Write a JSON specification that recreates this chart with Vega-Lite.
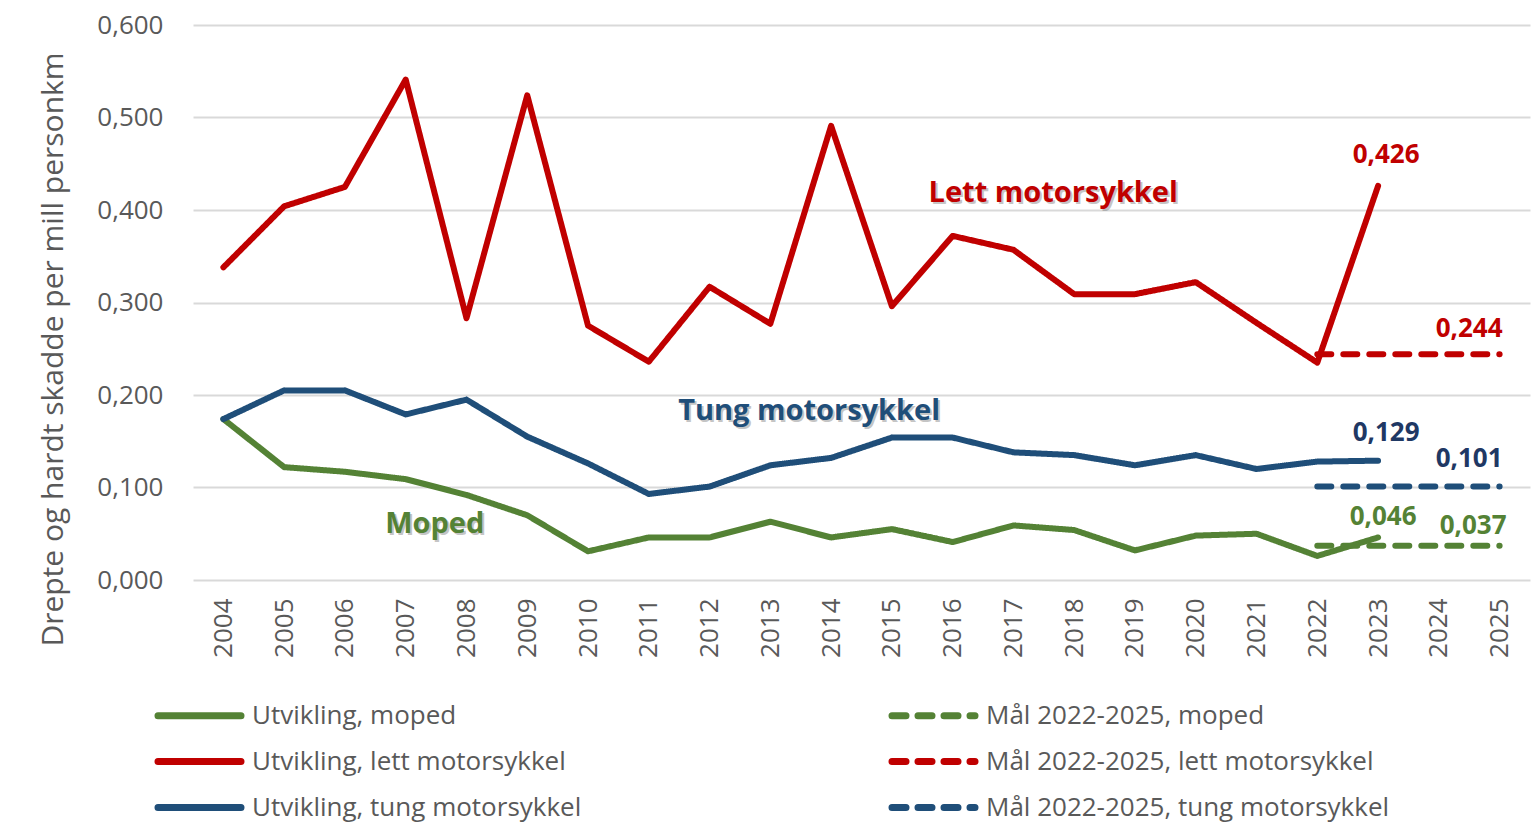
{
  "$schema": "https://vega.github.io/schema/vega-lite/v6.json",
  "width": 1337,
  "height": 555,
  "autosize": {"type": "none"},
  "padding": {"left": 193, "top": 25, "right": 4, "bottom": 254},
  "background": "white",
  "config": {
    "locale": {"number": {"decimal": ",", "thousands": " ", "grouping": [3], "currency": ["", " kr"]}},
    "view": {"stroke": null},
    "font": "Open Sans",
    "axis": {"labelColor": "#595959", "titleColor": "#595959", "labelFont": "Open Sans", "titleFont": "Open Sans", "titleFontWeight": "normal"},
    "legend": {"labelFont": "Open Sans", "labelColor": "#595959"}
  },
  "data": {
    "values": [
      {"year": 2004, "series": "Utvikling, moped", "value": 0.174},
      {"year": 2005, "series": "Utvikling, moped", "value": 0.122},
      {"year": 2006, "series": "Utvikling, moped", "value": 0.117},
      {"year": 2007, "series": "Utvikling, moped", "value": 0.109},
      {"year": 2008, "series": "Utvikling, moped", "value": 0.092},
      {"year": 2009, "series": "Utvikling, moped", "value": 0.070},
      {"year": 2010, "series": "Utvikling, moped", "value": 0.031},
      {"year": 2011, "series": "Utvikling, moped", "value": 0.046},
      {"year": 2012, "series": "Utvikling, moped", "value": 0.046},
      {"year": 2013, "series": "Utvikling, moped", "value": 0.063},
      {"year": 2014, "series": "Utvikling, moped", "value": 0.046},
      {"year": 2015, "series": "Utvikling, moped", "value": 0.055},
      {"year": 2016, "series": "Utvikling, moped", "value": 0.041},
      {"year": 2017, "series": "Utvikling, moped", "value": 0.059},
      {"year": 2018, "series": "Utvikling, moped", "value": 0.054},
      {"year": 2019, "series": "Utvikling, moped", "value": 0.032},
      {"year": 2020, "series": "Utvikling, moped", "value": 0.048},
      {"year": 2021, "series": "Utvikling, moped", "value": 0.050},
      {"year": 2022, "series": "Utvikling, moped", "value": 0.026},
      {"year": 2023, "series": "Utvikling, moped", "value": 0.046},
      {"year": 2004, "series": "Utvikling, lett motorsykkel", "value": 0.338},
      {"year": 2005, "series": "Utvikling, lett motorsykkel", "value": 0.404},
      {"year": 2006, "series": "Utvikling, lett motorsykkel", "value": 0.425},
      {"year": 2007, "series": "Utvikling, lett motorsykkel", "value": 0.541},
      {"year": 2008, "series": "Utvikling, lett motorsykkel", "value": 0.283},
      {"year": 2009, "series": "Utvikling, lett motorsykkel", "value": 0.524},
      {"year": 2010, "series": "Utvikling, lett motorsykkel", "value": 0.275},
      {"year": 2011, "series": "Utvikling, lett motorsykkel", "value": 0.236},
      {"year": 2012, "series": "Utvikling, lett motorsykkel", "value": 0.317},
      {"year": 2013, "series": "Utvikling, lett motorsykkel", "value": 0.277},
      {"year": 2014, "series": "Utvikling, lett motorsykkel", "value": 0.491},
      {"year": 2015, "series": "Utvikling, lett motorsykkel", "value": 0.296},
      {"year": 2016, "series": "Utvikling, lett motorsykkel", "value": 0.372},
      {"year": 2017, "series": "Utvikling, lett motorsykkel", "value": 0.357},
      {"year": 2018, "series": "Utvikling, lett motorsykkel", "value": 0.309},
      {"year": 2019, "series": "Utvikling, lett motorsykkel", "value": 0.309},
      {"year": 2020, "series": "Utvikling, lett motorsykkel", "value": 0.322},
      {"year": 2021, "series": "Utvikling, lett motorsykkel", "value": 0.278},
      {"year": 2022, "series": "Utvikling, lett motorsykkel", "value": 0.235},
      {"year": 2023, "series": "Utvikling, lett motorsykkel", "value": 0.426},
      {"year": 2004, "series": "Utvikling, tung motorsykkel", "value": 0.174},
      {"year": 2005, "series": "Utvikling, tung motorsykkel", "value": 0.205},
      {"year": 2006, "series": "Utvikling, tung motorsykkel", "value": 0.205},
      {"year": 2007, "series": "Utvikling, tung motorsykkel", "value": 0.179},
      {"year": 2008, "series": "Utvikling, tung motorsykkel", "value": 0.195},
      {"year": 2009, "series": "Utvikling, tung motorsykkel", "value": 0.155},
      {"year": 2010, "series": "Utvikling, tung motorsykkel", "value": 0.126},
      {"year": 2011, "series": "Utvikling, tung motorsykkel", "value": 0.093},
      {"year": 2012, "series": "Utvikling, tung motorsykkel", "value": 0.101},
      {"year": 2013, "series": "Utvikling, tung motorsykkel", "value": 0.124},
      {"year": 2014, "series": "Utvikling, tung motorsykkel", "value": 0.132},
      {"year": 2015, "series": "Utvikling, tung motorsykkel", "value": 0.154},
      {"year": 2016, "series": "Utvikling, tung motorsykkel", "value": 0.154},
      {"year": 2017, "series": "Utvikling, tung motorsykkel", "value": 0.138},
      {"year": 2018, "series": "Utvikling, tung motorsykkel", "value": 0.135},
      {"year": 2019, "series": "Utvikling, tung motorsykkel", "value": 0.124},
      {"year": 2020, "series": "Utvikling, tung motorsykkel", "value": 0.135},
      {"year": 2021, "series": "Utvikling, tung motorsykkel", "value": 0.120},
      {"year": 2022, "series": "Utvikling, tung motorsykkel", "value": 0.128},
      {"year": 2023, "series": "Utvikling, tung motorsykkel", "value": 0.129},
      {"year": 2022, "series": "Mål 2022-2025, moped", "value": 0.037},
      {"year": 2023, "series": "Mål 2022-2025, moped", "value": 0.037},
      {"year": 2024, "series": "Mål 2022-2025, moped", "value": 0.037},
      {"year": 2025, "series": "Mål 2022-2025, moped", "value": 0.037},
      {"year": 2022, "series": "Mål 2022-2025, lett motorsykkel", "value": 0.244},
      {"year": 2023, "series": "Mål 2022-2025, lett motorsykkel", "value": 0.244},
      {"year": 2024, "series": "Mål 2022-2025, lett motorsykkel", "value": 0.244},
      {"year": 2025, "series": "Mål 2022-2025, lett motorsykkel", "value": 0.244},
      {"year": 2022, "series": "Mål 2022-2025, tung motorsykkel", "value": 0.101},
      {"year": 2023, "series": "Mål 2022-2025, tung motorsykkel", "value": 0.101},
      {"year": 2024, "series": "Mål 2022-2025, tung motorsykkel", "value": 0.101},
      {"year": 2025, "series": "Mål 2022-2025, tung motorsykkel", "value": 0.101}
    ]
  },
  "encoding": {
    "x": {
      "field": "year", "type": "ordinal",
      "scale": {"type": "point", "padding": 0.5, "domain": [2004,2005,2006,2007,2008,2009,2010,2011,2012,2013,2014,2015,2016,2017,2018,2019,2020,2021,2022,2023,2024,2025]},
      "axis": {"title": null, "labelAngle": -90, "labelFontSize": 26, "ticks": false, "domain": false, "grid": false, "labelPadding": 18}
    },
    "y": {
      "field": "value", "type": "quantitative",
      "scale": {"domain": [0, 0.6], "nice": false},
      "axis": {"title": "Drepte og hardt skadde per mill personkm", "titleFontSize": 30, "titlePadding": 28, "titleY": 324, "format": ".3f", "values": [0, 0.1, 0.2, 0.3, 0.4, 0.5, 0.6], "labelFontSize": 26, "ticks": false, "domain": false, "gridColor": "#d9d9d9", "gridWidth": 2, "labelPadding": 30}
    }
  },
  "layer": [
    {
      "mark": {"type": "line", "strokeWidth": 6, "strokeCap": "round", "strokeJoin": "round"},
      "encoding": {
        "color": {
          "field": "series", "type": "nominal",
          "scale": {
            "domain": ["Utvikling, moped", "Utvikling, lett motorsykkel", "Utvikling, tung motorsykkel", "Mål 2022-2025, moped", "Mål 2022-2025, lett motorsykkel", "Mål 2022-2025, tung motorsykkel"],
            "range": ["#548235", "#C00000", "#1F4E79", "#548235", "#C00000", "#1F4E79"]
          },
          "legend": {
            "title": null, "orient": "none", "legendX": -42, "legendY": 677, "columns": 2,
            "symbolType": "M-0.65,0H7.65", "symbolSize": 400, "symbolStrokeWidth": 7,
            "labelFontSize": 26, "labelOffset": 74, "columnPadding": 296, "rowPadding": 17,
            "labelLimit": 700,
            "encode": {"symbols": {"update": {"strokeCap": {"value": "round"}, "fill": {"value": "transparent"}}}}
          }
        },
        "strokeDash": {
          "field": "series", "type": "nominal",
          "scale": {
            "domain": ["Utvikling, moped", "Utvikling, lett motorsykkel", "Utvikling, tung motorsykkel", "Mål 2022-2025, moped", "Mål 2022-2025, lett motorsykkel", "Mål 2022-2025, tung motorsykkel"],
            "range": [[1, 0], [1, 0], [1, 0], [14, 12], [14, 12], [14, 12]]
          },
          "legend": null
        }
      }
    },
    {
      "transform": [{"filter": "datum.series == 'Utvikling, lett motorsykkel' && datum.year == 2018"}],
      "mark": {"type": "text", "text": "Lett motorsykkel", "fontSize": 29, "fontWeight": "bold", "color": "#808080", "opacity": 0.45, "dx": -19, "dy": -99}
    },
    {
      "transform": [{"filter": "datum.series == 'Utvikling, lett motorsykkel' && datum.year == 2018"}],
      "mark": {"type": "text", "text": "Lett motorsykkel", "fontSize": 29, "fontWeight": "bold", "color": "#C00000", "dx": -21, "dy": -101}
    },
    {
      "transform": [{"filter": "datum.series == 'Utvikling, tung motorsykkel' && datum.year == 2014"}],
      "mark": {"type": "text", "text": "Tung motorsykkel", "fontSize": 29, "fontWeight": "bold", "color": "#808080", "opacity": 0.45, "dx": -20, "dy": -45}
    },
    {
      "transform": [{"filter": "datum.series == 'Utvikling, tung motorsykkel' && datum.year == 2014"}],
      "mark": {"type": "text", "text": "Tung motorsykkel", "fontSize": 29, "fontWeight": "bold", "color": "#1F4E79", "dx": -22, "dy": -47}
    },
    {
      "transform": [{"filter": "datum.series == 'Utvikling, moped' && datum.year == 2007"}],
      "mark": {"type": "text", "text": "Moped", "fontSize": 29, "fontWeight": "bold", "color": "#808080", "opacity": 0.45, "dx": 31, "dy": 47}
    },
    {
      "transform": [{"filter": "datum.series == 'Utvikling, moped' && datum.year == 2007"}],
      "mark": {"type": "text", "text": "Moped", "fontSize": 29, "fontWeight": "bold", "color": "#548235", "dx": 29, "dy": 45}
    },
    {
      "transform": [{"filter": "datum.series == 'Utvikling, lett motorsykkel' && datum.year == 2023"}],
      "mark": {"type": "text", "fontSize": 26, "fontWeight": "bold", "color": "#C00000", "dx": 8, "dy": -31},
      "encoding": {"text": {"field": "value", "type": "quantitative", "format": ".3f"}}
    },
    {
      "transform": [{"filter": "datum.series == 'Utvikling, tung motorsykkel' && datum.year == 2023"}],
      "mark": {"type": "text", "fontSize": 26, "fontWeight": "bold", "color": "#1F3864", "dx": 8, "dy": -28},
      "encoding": {"text": {"field": "value", "type": "quantitative", "format": ".3f"}}
    },
    {
      "transform": [{"filter": "datum.series == 'Utvikling, moped' && datum.year == 2023"}],
      "mark": {"type": "text", "fontSize": 26, "fontWeight": "bold", "color": "#548235", "dx": 5, "dy": -20},
      "encoding": {"text": {"field": "value", "type": "quantitative", "format": ".3f"}}
    },
    {
      "transform": [{"filter": "datum.series == 'Mål 2022-2025, lett motorsykkel' && datum.year == 2025"}],
      "mark": {"type": "text", "fontSize": 26, "fontWeight": "bold", "color": "#C00000", "align": "right", "dx": 3, "dy": -25},
      "encoding": {"text": {"field": "value", "type": "quantitative", "format": ".3f"}}
    },
    {
      "transform": [{"filter": "datum.series == 'Mål 2022-2025, tung motorsykkel' && datum.year == 2025"}],
      "mark": {"type": "text", "fontSize": 26, "fontWeight": "bold", "color": "#1F3864", "align": "right", "dx": 3, "dy": -28},
      "encoding": {"text": {"field": "value", "type": "quantitative", "format": ".3f"}}
    },
    {
      "transform": [{"filter": "datum.series == 'Mål 2022-2025, moped' && datum.year == 2025"}],
      "mark": {"type": "text", "fontSize": 26, "fontWeight": "bold", "color": "#548235", "align": "right", "dx": 7, "dy": -20},
      "encoding": {"text": {"field": "value", "type": "quantitative", "format": ".3f"}}
    }
  ]
}
